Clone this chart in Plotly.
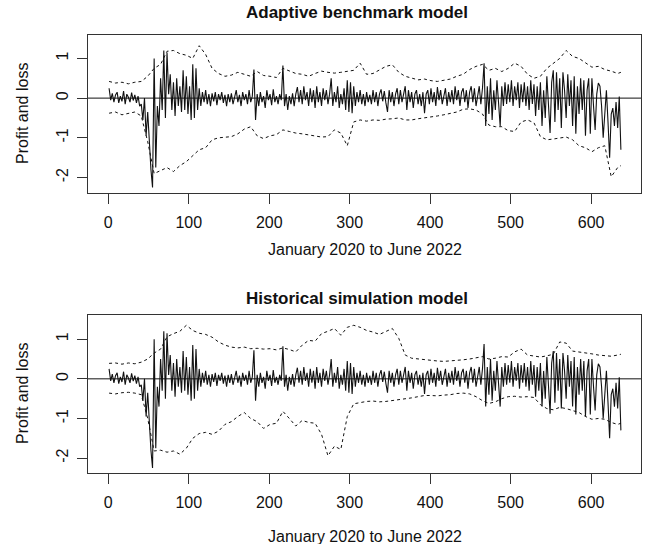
import plotly.graph_objects as go

# ---------------- data ----------------
# daily profit and loss, sampled every second day (day 1, 3, 5, ...)
pnl = [
    # days 1-39
    0.25, -0.05, 0.12, -0.1, 0.08, 0.15, -0.12, 0.05, -0.08, 0.18,
    -0.15, 0.1, 0.02, -0.1, 0.14, -0.06, 0.08, -0.12, 0.05, -0.2,
    # days 41-149
    -0.15, -0.55, 0.0, -0.95, -0.35, -1.25, -1.8, -2.25, 1.0, -1.75,
    -0.2, -0.7, 0.5, -0.3, 1.2, -0.5, 1.15, 0.1, 0.6, -0.3,
    0.4, -0.45, 0.5, -0.2, 0.3, -0.35, 0.7, -0.3, 0.55, -0.4,
    0.3, -0.55, 0.85, -0.5, 0.75, -0.3, 0.25, -0.2, 0.15, -0.1,
    0.2, -0.15, 0.1, -0.2, 0.12, -0.08, 0.15, -0.18, 0.1, -0.05,
    0.15, -0.12, 0.08, -0.2, 0.1,
    # days 151-325
    -0.1, 0.12, -0.15, 0.05, 0.2, -0.1, 0.08, -0.2, 0.15, -0.05,
    0.1, -0.15, 0.2, -0.1, 0.05, 0.72, -0.55, 0.1, -0.2, 0.15,
    -0.1, 0.05, -0.25, 0.2, -0.05, 0.1, -0.18, 0.22, -0.1, 0.05,
    -0.15, 0.1, -0.05, 0.82, -0.2, 0.1, -0.3, 0.05, -0.15, 0.12,
    -0.2, 0.1, 0.28, -0.1, 0.2, -0.15, 0.3, -0.05, 0.15, -0.2,
    0.25, -0.1, 0.2, -0.25, 0.3, -0.1, 0.15, -0.2, 0.25, -0.05,
    0.2, -0.15, 0.1, 0.5, -0.2, 0.15, -0.1, 0.3, -0.25, 0.1,
    -0.15, 0.25, -0.3, 0.45, -0.35, 0.4, -0.38, 0.3, -0.2, 0.15,
    -0.1, 0.2, -0.15, 0.1, -0.2, 0.15, -0.1, 0.08,
    # days 327-487
    -0.15, 0.2, -0.1, 0.15, -0.2, 0.1, 0.22, -0.08, 0.18, -0.12,
    -0.35, 0.2, -0.1, 0.15, -0.2, 0.1, 0.25, -0.15, 0.2, -0.1,
    0.15, 0.3, -0.3, 0.2, -0.1, 0.15, -0.25, 0.1, 0.2, -0.15,
    0.1, -0.2, 0.15, -0.38, 0.1, 0.2, -0.15, 0.25, -0.1, 0.15,
    -0.2, 0.28, -0.05, 0.2, -0.15, 0.1, 0.25, -0.2, 0.15, -0.1,
    0.2, -0.15, 0.3, -0.05, 0.2, -0.2, 0.15, 0.25, -0.1, 0.2,
    -0.25, 0.15, 0.3, -0.1, 0.25, -0.2, 0.1, 0.3, -0.15, 0.25,
    0.88, -0.7, 0.3, -0.4, 0.5, -0.55, 0.2, -0.3, 0.45, -0.15,
    -0.7,
    # days 489-637
    0.3, -0.2, 0.4, -0.15, 0.35, -0.1, 0.45, -0.2, 0.3, -0.05,
    0.4, -0.25, 0.35, -0.1, 0.4, -0.2, 0.3, -0.3, 0.45, -0.15,
    0.35, -0.45, 0.3, -0.3, 0.4, -0.7, 0.2, -0.5, 0.55, -0.2,
    -0.88, 0.4, 0.7, -0.6, 0.65, -0.3, 0.5, -0.75, 0.65, 0.2,
    -0.5, 0.6, -0.2, 0.45, -0.7, 0.55, -0.9, 0.3, -0.4, 0.5,
    -0.3, 0.45, -0.95, 0.2, 0.5, -0.9, 0.5, -0.2, -0.8, 0.1,
    0.38, 0.3, -0.2, -1.0, -0.3, 0.2, -0.6, -1.5, -0.4, -0.25,
    -0.7, -0.1, -0.75, 0.04, -1.3,
]
day = list(range(1, 2 * len(pnl), 2))

# risk bounds, sampled every eighth day
bound_day = list(range(1, 634, 8)) + [637]

ab_upper = [
    0.42, 0.38, 0.40, 0.36, 0.40, 0.42, 0.55, 0.75, 0.85, 1.18,
    1.20, 1.12, 1.08, 1.00, 1.32, 1.10, 0.75, 0.62, 0.55, 0.58,
    0.65, 0.60, 0.55, 0.67, 0.57, 0.55, 0.52, 0.75, 0.68, 0.62,
    0.60, 0.55, 0.62, 0.68, 0.65, 0.63, 0.65, 0.68, 0.70, 0.88,
    0.60, 0.62, 0.70, 0.80, 0.84, 0.65, 0.55, 0.50, 0.46, 0.48,
    0.44, 0.42, 0.45, 0.48, 0.55, 0.60, 0.72, 0.80, 0.85, 0.70,
    0.75, 0.67, 0.75, 0.88, 0.80, 0.60, 0.50, 0.55, 0.75, 0.88,
    1.00, 1.20, 1.05, 1.00, 0.90, 0.78, 0.80, 0.72, 0.68, 0.62,
    0.65,
]
ab_lower = [
    -0.38, -0.35, -0.42, -0.38, -0.35, -0.45, -1.10, -1.90, -1.82, -1.75,
    -1.85, -1.70, -1.60, -1.45, -1.30, -1.25, -1.05, -1.00, -0.98, -0.97,
    -0.90, -0.78, -0.72, -0.95, -1.02, -0.95, -0.92, -0.80, -0.84, -0.88,
    -0.90, -0.93, -0.95, -0.98, -0.97, -0.80, -0.88, -1.20, -0.60, -0.55,
    -0.58, -0.55, -0.56, -0.53, -0.52, -0.50, -0.55, -0.55, -0.52, -0.50,
    -0.48, -0.45, -0.42, -0.38, -0.35, -0.28, -0.27, -0.30, -0.40, -0.68,
    -0.72, -0.72, -0.82, -0.84, -0.60, -0.55, -0.62, -0.97, -1.05, -1.03,
    -1.00, -0.98, -1.05, -1.20, -1.25, -1.35, -1.25, -1.20, -1.98, -1.75,
    -1.70,
]
hs_upper = [
    0.39, 0.40, 0.37, 0.40, 0.38, 0.42, 0.50, 0.65, 0.75, 1.06,
    1.14, 1.20, 1.35, 1.22, 1.15, 1.12, 1.05, 0.93, 0.85, 0.80,
    0.78, 0.80, 0.76, 0.77, 0.75, 0.76, 0.73, 0.78, 0.74, 0.68,
    0.85, 0.97, 0.95, 1.14, 1.20, 1.27, 1.10, 1.30, 1.35, 1.30,
    1.22, 1.18, 1.12, 1.20, 1.27, 1.02, 0.60, 0.52, 0.50, 0.48,
    0.47, 0.45, 0.44, 0.45, 0.47, 0.48, 0.50, 0.53, 0.56, 0.50,
    0.52, 0.56, 0.55, 0.68, 0.75, 0.60, 0.57, 0.55, 0.58, 0.62,
    0.93, 0.90, 0.70, 0.68, 0.66, 0.63, 0.60, 0.58, 0.57, 0.60,
    0.62,
]
hs_lower = [
    -0.36, -0.38, -0.35, -0.34, -0.36, -0.40, -1.00, -1.82, -1.80, -1.85,
    -1.82, -1.90, -1.75, -1.50, -1.38, -1.35, -1.40, -1.32, -1.15, -1.08,
    -0.95, -0.85, -1.00, -1.08, -1.25, -1.15, -1.12, -0.82, -1.00, -1.19,
    -1.05, -1.10, -1.12, -1.40, -1.94, -1.70, -1.78, -0.95, -0.63, -0.60,
    -0.57, -0.56, -0.58, -0.57, -0.55, -0.53, -0.50, -0.48, -0.45, -0.42,
    -0.42, -0.43, -0.41, -0.40, -0.37, -0.36, -0.38, -0.45, -0.55, -0.62,
    -0.58, -0.50, -0.45, -0.44, -0.46, -0.45, -0.47, -0.65, -0.75, -0.78,
    -0.72, -0.75, -0.80, -0.85, -0.95, -1.02, -1.00, -1.02, -1.10, -1.15,
    -1.12,
]

x_ticks = [0, 100, 200, 300, 400, 500, 600]
y_ticks = [-2, -1, 0, 1]
y_tick_labels = ["-2", "-1", "0", "1"]
panel_titles = ["Adaptive benchmark model", "Historical simulation model"]
x_title = "January 2020 to June 2022"
y_title = "Profit and loss"

# ---------------- figure ----------------
FONT = "Liberation Sans, Arial, Helvetica, sans-serif"
INK = "#111111"
fig = go.Figure()

panels = [("x", "y", ab_upper, ab_lower), ("x2", "y2", hs_upper, hs_lower)]
for xa, ya, up, lo in panels:
    fig.add_trace(go.Scatter(x=day, y=pnl, mode="lines", xaxis=xa, yaxis=ya,
                             line=dict(color=INK, width=1.1), showlegend=False,
                             hoverinfo="skip"))
    fig.add_trace(go.Scatter(x=bound_day, y=up, mode="lines", xaxis=xa, yaxis=ya,
                             line=dict(color=INK, width=1, dash="3px,3px"),
                             showlegend=False, hoverinfo="skip"))
    fig.add_trace(go.Scatter(x=bound_day, y=lo, mode="lines", xaxis=xa, yaxis=ya,
                             line=dict(color=INK, width=1, dash="3px,3px"),
                             showlegend=False, hoverinfo="skip"))
    fig.add_shape(type="line", xref=xa + " domain", yref=ya, x0=0, x1=1, y0=0, y1=0,
                  line=dict(color=INK, width=1))

W, H = 646, 544
xdom = [88 / W, 641 / W]
top_dom = [1 - 193 / H, 1 - 35 / H]
bot_dom = [1 - 473 / H, 1 - 315 / H]

axis_common = dict(showline=True, mirror=True, linecolor="#333333", linewidth=1,
                   ticks="outside", ticklen=10, tickcolor="#333333", tickwidth=1,
                   showgrid=False, zeroline=False,
                   tickfont=dict(family=FONT, size=16, color=INK))

fig.update_layout(
    width=W, height=H,
    margin=dict(l=0, r=0, t=0, b=0),
    paper_bgcolor="white", plot_bgcolor="white",
    font=dict(family=FONT, color=INK),
    xaxis=dict(domain=xdom, range=[-25.2, 662], tickvals=x_ticks, anchor="y",
               ticklabelstandoff=5, **axis_common),
    yaxis=dict(domain=top_dom, range=[-2.39, 1.59], tickvals=y_ticks, ticktext=y_tick_labels,
               tickangle=-90, anchor="x", ticklabelstandoff=3, **axis_common),
    xaxis2=dict(domain=xdom, range=[-25.2, 662], tickvals=x_ticks, anchor="y2",
                ticklabelstandoff=5, **axis_common),
    yaxis2=dict(domain=bot_dom, range=[-2.375, 1.61], tickvals=y_ticks, ticktext=y_tick_labels,
                tickangle=-90, anchor="x2", ticklabelstandoff=3, **axis_common),
)

cx = (88 + 641) / 2 / W
title_cx = 357 / W
ann = []
for title, ty, xty, panel_mid in [(panel_titles[0], 12, 250, 114), (panel_titles[1], 298, 536, 394)]:
    ann.append(dict(text="<b>" + title + "</b>", x=title_cx, y=1 - ty / H, xref="paper", yref="paper",
                    showarrow=False, xanchor="center", yanchor="middle",
                    font=dict(family=FONT, size=17, color=INK)))
    ann.append(dict(text=x_title, x=cx, y=1 - xty / H, xref="paper", yref="paper",
                    showarrow=False, xanchor="center", yanchor="middle",
                    font=dict(family=FONT, size=16, color=INK)))
    ann.append(dict(text=y_title, x=22 / W, y=1 - panel_mid / H, xref="paper", yref="paper",
                    showarrow=False, xanchor="center", yanchor="middle", textangle=-90,
                    font=dict(family=FONT, size=16, color=INK)))
fig.update_layout(annotations=ann)

fig.write_html("out.html", config={"displayModeBar": False},
               post_script="document.body.style.margin='0';document.body.style.overflow='hidden';")
